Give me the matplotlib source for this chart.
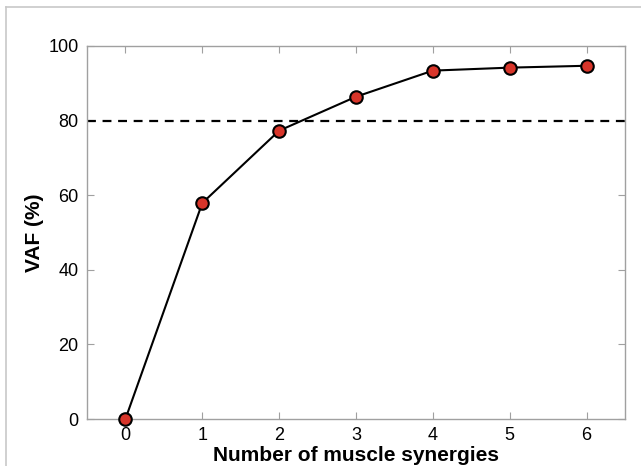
import matplotlib.pyplot as plt
from matplotlib.lines import Line2D

# number of synergies vs VAF
n_syn = [0, 1, 2, 3, 4, 5, 6]
vaf = [0.0, 57.9, 77.3, 86.4, 93.4, 94.2, 94.7]
threshold = 80

plt.rcParams['font.family'] = ['Liberation Sans', 'DejaVu Sans']

fig = plt.figure(figsize=(6.41, 4.66), dpi=100)
ax = fig.add_axes([87/641, 1-419/466, (625-87)/641, (419-46)/466])

ax.axhline(threshold, color='black', linestyle=(0, (4, 3)), linewidth=1.6, zorder=2)
ax.plot(n_syn, vaf, color='black', linewidth=1.5, marker='o', markersize=9,
        markerfacecolor='#d8352a', markeredgecolor='black', markeredgewidth=1.5,
        clip_on=False, zorder=3)

ax.set_xlim(-0.5, 6.5)
ax.set_ylim(0, 100)
ax.set_xticks(n_syn)
ax.set_yticks([0, 20, 40, 60, 80, 100])
for s in ax.spines.values():
    s.set_color('#a0a0a0')
    s.set_linewidth(1.0)
ax.tick_params(direction='in', top=True, right=True, color='#a0a0a0',
               length=5, labelsize=13, pad=6)
ax.set_xlabel('Number of muscle synergies', fontsize=15, fontweight='bold', labelpad=1)
ax.set_ylabel('VAF (%)', fontsize=15, fontweight='bold', labelpad=3)

# light frame around figure
fig.add_artist(Line2D([6/641, 1], [1-7/466, 1-7/466], color='#c8c8c8', linewidth=1.2))
fig.add_artist(Line2D([6/641, 6/641], [0, 1-7/466], color='#c8c8c8', linewidth=1.2))

fig.savefig('out.png', dpi=100)
